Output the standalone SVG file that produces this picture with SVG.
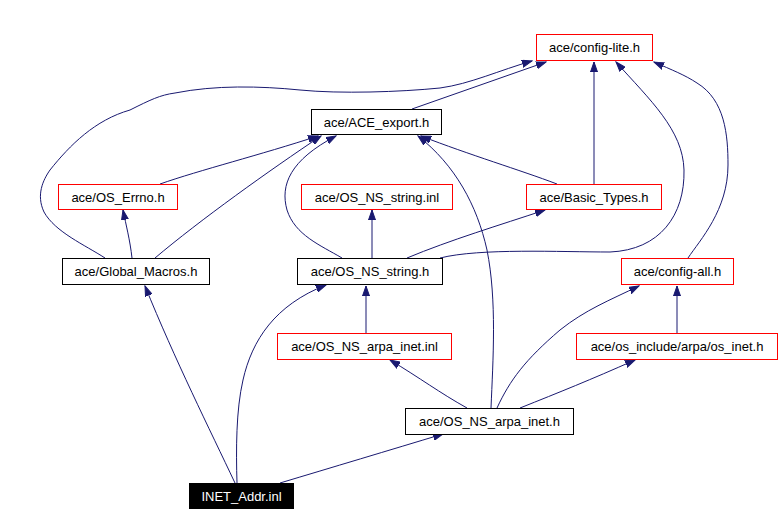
<svg xmlns="http://www.w3.org/2000/svg" width="783" height="515" viewBox="0 0 783 515">
<style>
.n rect{fill:#fff;stroke:#000;stroke-width:1}
.r rect{stroke:#ff0000}
.b rect{fill:#000}
text{font-family:"Liberation Sans",Arial,sans-serif;font-size:13px;text-anchor:middle;fill:#000}
.b text{fill:#fff}
#edges path{fill:none;stroke:#191970;stroke-width:1;marker-end:url(#ah)}
</style>
<defs>
<marker id="ah" markerUnits="userSpaceOnUse" markerWidth="11" markerHeight="8" refX="10" refY="4" orient="auto">
<path d="M0,0.5 L10,4 L0,7.5 z" fill="#191970" stroke="#191970"/>
</marker>
</defs>
<rect width="783" height="515" fill="#fff"/>
<g id="edges">
<path d="M412,109 L546,62"/>
<path d="M105,258 C85,245 55,232 44,212 C36,195 43,180 50,170 C70,145 95,120 130,110 C150,100 160,95 175,93 C215,85 260,86 300,90 C340,94 400,92 440,88 C470,84 500,70 532,61"/>
<path d="M160,184 C200,170 260,155 318,136"/>
<path d="M132,258 C130,240 126,225 123,210"/>
<path d="M155,258 C200,220 270,170 321,136"/>
<path d="M342,258 C320,245 295,235 287,210 C280,185 290,160 336,136"/>
<path d="M372,258 L372,210"/>
<path d="M407,258 C450,240 500,225 545,210"/>
<path d="M440,258 C480,248 560,252 610,252 C660,250 685,215 684,170 C683,130 650,100 616,62"/>
<path d="M557,184 C520,170 470,155 421,136"/>
<path d="M594,184 L594,62"/>
<path d="M688,258 C700,240 728,210 728,165 C728,135 725,100 697,83 C685,75 672,70 654,62"/>
<path d="M491,408 C493,360 497,300 487,250 C477,205 455,165 418,136"/>
<path d="M497,408 C510,380 525,360 560,330 C585,310 610,300 639,286"/>
<path d="M467,408 C440,393 420,378 390,360"/>
<path d="M520,408 C560,392 590,380 635,360"/>
<path d="M677,333 L677,286"/>
<path d="M366,333 L366,286"/>
<path d="M280,483 C330,468 390,450 443,434"/>
<path d="M235,483 C210,430 175,360 145,286"/>
<path d="M237,483 C236,450 236,410 243,380 C252,340 275,305 326,285"/>
</g>
<g id="config-lite" class="n r"><rect x="536.5" y="34.5" width="116" height="26"/><text x="594.5" y="52">ace/config-lite.h</text></g>
<g id="ACE_export" class="n"><rect x="311.5" y="109.5" width="130" height="25"/><text x="376.5" y="127">ace/ACE_export.h</text></g>
<g id="OS_Errno" class="n r"><rect x="58.5" y="184.5" width="119" height="25"/><text x="118" y="202">ace/OS_Errno.h</text></g>
<g id="OS_NS_string_inl" class="n r"><rect x="301.5" y="184.5" width="151" height="25"/><text x="377" y="202">ace/OS_NS_string.inl</text></g>
<g id="Basic_Types" class="n r"><rect x="526.5" y="184.5" width="135" height="25"/><text x="594" y="202">ace/Basic_Types.h</text></g>
<g id="Global_Macros" class="n"><rect x="62.5" y="258.5" width="147" height="26"/><text x="136" y="276">ace/Global_Macros.h</text></g>
<g id="OS_NS_string_h" class="n"><rect x="297.5" y="258.5" width="145" height="26"/><text x="370" y="276">ace/OS_NS_string.h</text></g>
<g id="config-all" class="n r"><rect x="621.5" y="258.5" width="112" height="26"/><text x="677.5" y="276">ace/config-all.h</text></g>
<g id="OS_NS_arpa_inet_inl" class="n r"><rect x="277.5" y="333.5" width="174" height="26"/><text x="364.5" y="351">ace/OS_NS_arpa_inet.inl</text></g>
<g id="os_inet" class="n r"><rect x="576.5" y="333.5" width="201" height="26"/><text x="677" y="351">ace/os_include/arpa/os_inet.h</text></g>
<g id="OS_NS_arpa_inet_h" class="n"><rect x="405.5" y="408.5" width="168" height="26"/><text x="489.5" y="426">ace/OS_NS_arpa_inet.h</text></g>
<g id="INET_Addr" class="n b"><rect x="189.5" y="483.5" width="104" height="25"/><text x="241.5" y="501">INET_Addr.inl</text></g>
</svg>
